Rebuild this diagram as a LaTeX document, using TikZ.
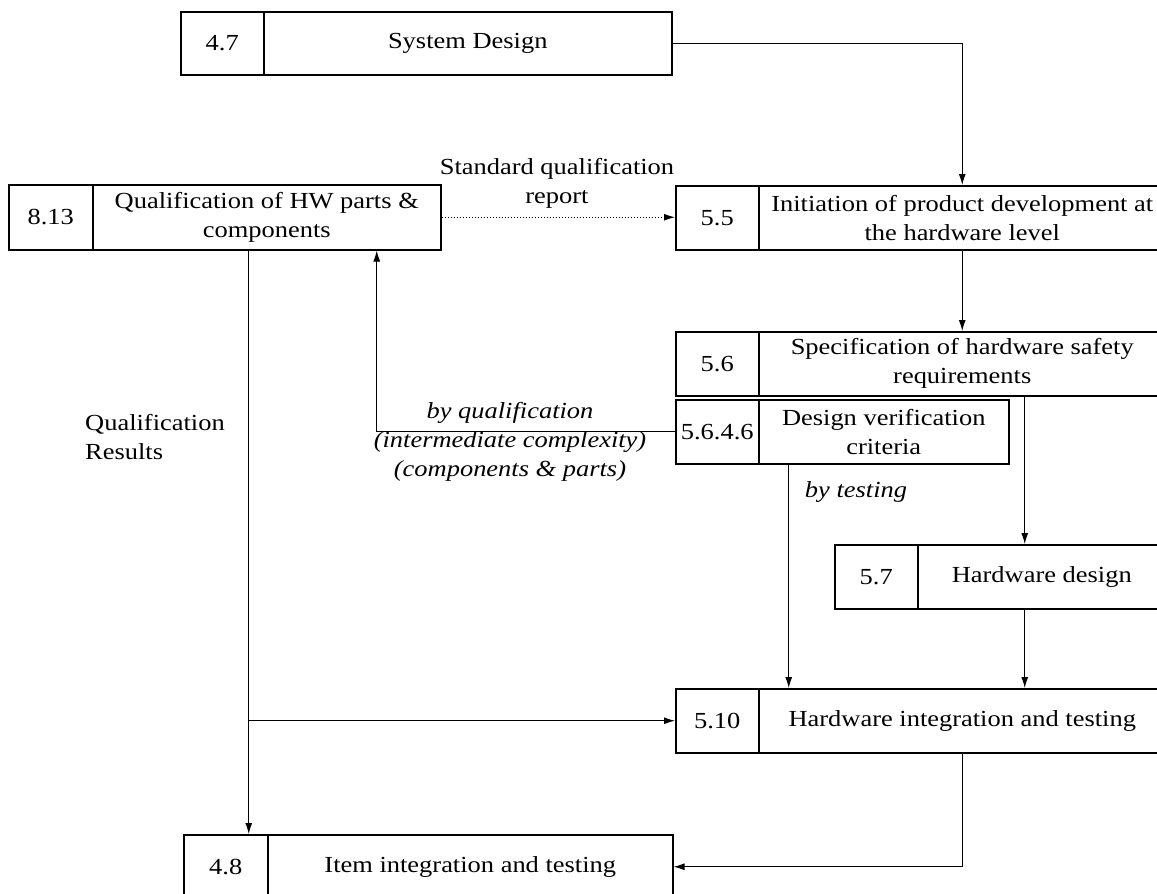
\documentclass[tikz,border=0pt]{standalone}
\usepackage{fontspec}
\setmainfont[FakeStretch=1.15]{Liberation Serif}
\usetikzlibrary{arrows.meta}
\begin{document}
\begin{tikzpicture}[x=1pt,y=-1pt,
 cell/.style={draw,line width=1.5pt,rectangle,inner sep=0pt,anchor=north west,align=center,font=\fontsize{23}{29}\selectfont},
 conn/.style={line width=1pt,-{Latex[length=11pt,width=7pt]}},
 lbl/.style={align=center,font=\fontsize{23}{29}\selectfont,inner sep=0pt},
 ilbl/.style={align=center,font=\fontsize{23}{29}\selectfont\itshape,inner sep=0pt}]
\path[use as bounding box] (0,0) rectangle (1157,894);
\clip (0,0) rectangle (1157,894);
% boxes
\node[cell,minimum width=83pt,minimum height=63pt] (n47) at (180,11) {4.7};
\node[cell,minimum width=408pt,minimum height=63pt] (t47) at (263,11) {System Design};
\node[cell,minimum width=84pt,minimum height=65pt] (n813) at (8,184) {8.13};
\node[cell,minimum width=348pt,minimum height=65pt] (t813) at (92,184) {Qualification of HW parts \&\\components};
\node[cell,minimum width=83pt,minimum height=64pt] (n55) at (675,185) {5.5};
\node[cell,minimum width=407pt,minimum height=64pt] (t55) at (758,185) {Initiation of product development at\\the hardware level};
\node[cell,minimum width=83pt,minimum height=64pt] (n56) at (675,331) {5.6};
\node[cell,minimum width=407pt,minimum height=64pt] (t56) at (758,331) {Specification of hardware safety\\requirements};
\node[cell,minimum width=83pt,minimum height=64pt] (n5646) at (675,399) {5.6.4.6};
\node[cell,minimum width=250pt,minimum height=64pt] (t5646) at (758,399) {Design verification\\criteria};
\node[cell,minimum width=83pt,minimum height=64pt] (n57) at (834,544) {5.7};
\node[cell,minimum width=248pt,minimum height=64pt] (t57) at (917,544) {Hardware design};
\node[cell,minimum width=83pt,minimum height=64pt] (n510) at (675,688) {5.10};
\node[cell,minimum width=407pt,minimum height=64pt] (t510) at (758,688) {Hardware integration and testing};
\node[cell,minimum width=84pt,minimum height=64pt] (n48) at (183,834) {4.8};
\node[cell,minimum width=405pt,minimum height=64pt] (t48) at (267,834) {Item integration and testing};
% labels
\node[lbl] (sq) at (557,183) {Standard qualification\\report};
\node[ilbl] (bq) at (510,442) {by qualification\\(intermediate complexity)\\(components \& parts)};
\node[ilbl] (bt) at (856,492) {by testing};
\node[lbl,align=left,anchor=west] (qr) at (85,437) {Qualification\\Results};
% connectors
\draw[conn] (t47.east) -| (t55.north);
\draw[conn,dotted] (t813.east) -- (t813.east -| n55.west);
\draw[conn] (t55.south) -- (t56.north);
\draw[conn] (n5646.west) -| ([xshift=110pt]t813.south);
\draw[conn] ([xshift=-95pt]t5646.south) -- ([xshift=-95pt]t5646.south |- t510.north);
\draw[conn] ([xshift=62.5pt]t56.south) -- ([xshift=62.5pt]t56.south |- t57.north);
\draw[conn] ([xshift=-17pt]t57.south) -- ([xshift=-17pt]t57.south |- t510.north);
\draw[conn] ([xshift=-18pt]t813.south) -- ([xshift=-18pt]t813.south |- n48.north);
\draw[conn] ([xshift=-18pt]t813.south |- n510.west) -- (n510.west);
\draw[conn] (t510.south) |- (t48.east);
\end{tikzpicture}
\end{document}
